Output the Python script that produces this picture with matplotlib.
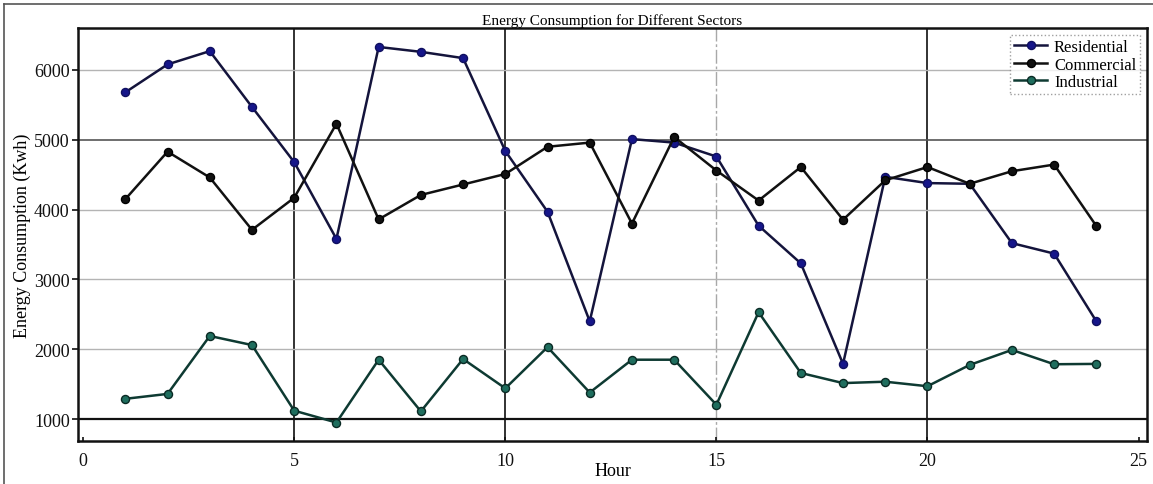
import matplotlib
matplotlib.use("Agg")
import matplotlib.pyplot as plt
from matplotlib.lines import Line2D

hours = list(range(1, 25))
residential = [5680, 6080, 6270, 5470, 4680, 3580, 6330, 6260, 6170, 4840, 3970, 2400,
               5010, 4960, 4760, 3770, 3230, 1790, 4470, 4380, 4370, 3520, 3370, 2400]
commercial = [4150, 4830, 4460, 3710, 4170, 5230, 3860, 4210, 4360, 4510, 4900, 4960,
              3800, 5040, 4560, 4130, 4610, 3855, 4420, 4610, 4370, 4550, 4645, 3765]
industrial = [1290, 1360, 2190, 2060, 1120, 950, 1850, 1110, 1860, 1440, 2030, 1380,
              1850, 1850, 1205, 2530, 1660, 1515, 1535, 1470, 1775, 1990, 1785, 1790]
series_names = ["Residential", "Commercial", "Industrial"]
x_ticks = [0, 5, 10, 15, 20, 25]
y_ticks = [1000, 2000, 3000, 4000, 5000, 6000]

plt.rcParams['font.family'] = ['Liberation Serif', 'DejaVu Serif']

fig = plt.figure(figsize=(11.53, 4.85), dpi=100)
ax = fig.add_axes([0.0677, 0.0893, 0.9271, 0.8507])

# outer frame lines (left & top)
fig.add_artist(Line2D([4/1153, 4/1153], [0, 1 - 5/485], color='#555555', lw=1.2, transform=fig.transFigure))
fig.add_artist(Line2D([4/1153, 1], [1 - 5/485, 1 - 5/485], color='#555555', lw=1.2, transform=fig.transFigure))

ax.set_xlim(-0.12, 25.2)
ax.set_ylim(690, 6600)
ax.set_xticks(x_ticks)
ax.set_yticks(y_ticks)

# grid
for xv in x_ticks[1:-1]:
    dark = xv in (5, 10, 20)
    ax.axvline(xv, color='#222222' if dark else '#a8a8a8', lw=1.3 if dark else 1.0,
               ls='-' if dark else (0, (10, 2, 2, 2)), zorder=1)
for yv in y_ticks:
    if yv == 1000:
        c, lw = '#111111', 1.6
    elif yv == 5000:
        c, lw = '#555555', 1.2
    else:
        c, lw = '#b4b4b4', 1.0
    ax.axhline(yv, color=c, lw=lw, zorder=1)

ax.plot(hours, residential, color='#14143c', lw=1.8, marker='o', markersize=5.8,
        markerfacecolor='#16168a', markeredgecolor='#101060', label=series_names[0], zorder=3)
ax.plot(hours, commercial, color='#111111', lw=1.8, marker='o', markersize=5.8,
        markerfacecolor='#111111', markeredgecolor='#000000', label=series_names[1], zorder=3)
ax.plot(hours, industrial, color='#0e3a32', lw=1.8, marker='o', markersize=5.8,
        markerfacecolor='#1f6e5e', markeredgecolor='#0a2a24', label=series_names[2], zorder=3)

for s in ax.spines.values():
    s.set_linewidth(1.8)
    s.set_color('#111111')

ax.tick_params(axis='both', labelsize=13, colors='#111111')
ax.tick_params(axis='x', direction='in', length=3, width=1.2, pad=8)
ax.tick_params(axis='y', direction='out', length=4, width=1.2, pad=2)

ax.set_title("Energy Consumption for Different Sectors", fontsize=11, pad=3)
ax.set_xlabel("Hour", fontsize=13, labelpad=-5)
ax.set_ylabel("Energy Consumption (Kwh)", fontsize=13, labelpad=2)

leg = ax.legend(loc='upper right', fontsize=12, frameon=True, fancybox=False,
                borderaxespad=0.4, handlelength=2.0, handletextpad=0.4,
                labelspacing=0.1, borderpad=0.25)
frame = leg.get_frame()
frame.set_edgecolor('#888888')
frame.set_linestyle(':')
frame.set_linewidth(1.0)

fig.savefig("out.png", dpi=100)
